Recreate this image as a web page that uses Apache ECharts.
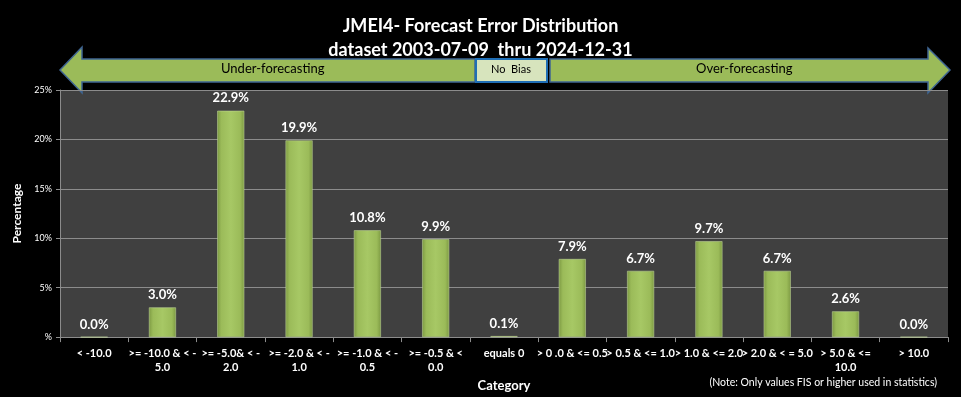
<!DOCTYPE html>
<html>
<head>
<meta charset="utf-8">
<script src="https://cdn.jsdelivr.net/npm/echarts@6/dist/echarts.min.js"></script>
<style>
  html, body { margin: 0; padding: 0; background: #000; }
  #chart { width: 961px; height: 397px; }
</style>
</head>
<body>
<div id="chart"></div>
<script>
const categories = [
  "< -10.0",
  ">= -10.0 & < -\n5.0",
  ">= -5.0& < -\n2.0",
  ">= -2.0 & < -\n1.0",
  ">= -1.0 & < -\n0.5",
  ">= -0.5 & <\n0.0",
  "equals 0",
  "> 0 .0 & <= 0.5",
  "> 0.5 & <= 1.0",
  "> 1.0 & <= 2.0",
  "> 2.0 & < = 5.0",
  "> 5.0 & <=\n10.0",
  "> 10.0",
];
const percentages = [0.0, 3.0, 22.9, 19.9, 10.8, 9.9, 0.1, 7.9, 6.7, 9.7, 6.7, 2.6, 0.0];
const yTicks = [0, 5, 10, 15, 20, 25];

const FONT = "Lato, 'Open Sans', sans-serif";
const myChart = echarts.init(document.getElementById("chart"));

// arrows over the plot (decoration)
const arrowStyle = { fill: "#9bbb59", stroke: "#3f6592", lineWidth: 1.5 };

myChart.setOption({
  backgroundColor: "#000",
  animation: false,
  title: {
    text: "JMEI4- Forecast Error Distribution\ndataset 2003-07-09  thru 2024-12-31",
    left: "center",
    top: 9,
    textStyle: {
      color: "#fff",
      fontFamily: FONT,
      fontWeight: "bold",
      fontSize: 18,
      lineHeight: 24,
    },
  },
  grid: {
    left: 60,
    right: 13,
    top: 90,
    bottom: 57,
    show: true,
    backgroundColor: "#404040",
    borderWidth: 0,
  },
  xAxis: {
    type: "category",
    data: categories,
    name: "Category",
    nameLocation: "middle",
    nameGap: 38,
    nameTextStyle: { color: "#fff", fontFamily: FONT, fontWeight: "bold", fontSize: 13 },
    axisLine: { lineStyle: { color: "#8c8c8c" } },
    axisTick: { show: true, length: 5, lineStyle: { color: "#8c8c8c" } },
    axisLabel: {
      color: "#fff",
      fontFamily: FONT,
      fontWeight: "bold",
      fontSize: 11,
      lineHeight: 14,
      margin: 9,
      interval: 0,
    },
  },
  yAxis: {
    type: "value",
    min: 0,
    max: 25,
    interval: 5,
    name: "Percentage",
    nameLocation: "middle",
    nameGap: 36,
    nameTextStyle: { color: "#fff", fontFamily: FONT, fontWeight: "bold", fontSize: 12 },
    axisLine: { show: true, lineStyle: { color: "#8c8c8c" } },
    axisTick: { show: true, length: 4, lineStyle: { color: "#8c8c8c" } },
    axisLabel: {
      color: "#fff",
      fontFamily: FONT,
      fontSize: 9,
      margin: 8,
      formatter: (v) => (v === yTicks[0] ? "%" : v + "%"),
    },
    splitLine: { show: true, lineStyle: { color: "#8c8c8c", width: 1 } },
  },
  series: [
    {
      type: "bar",
      data: percentages,
      barWidth: 27,
      itemStyle: {
        color: new echarts.graphic.LinearGradient(0, 0, 1, 0, [
          { offset: 0, color: "#7d9a43" },
          { offset: 0.15, color: "#9bbb59" },
          { offset: 0.5, color: "#a7c865" },
          { offset: 0.85, color: "#9bbb59" },
          { offset: 1, color: "#7d9a43" },
        ]),
        borderColor: "#c9dea0",
        borderWidth: 0.5,
      },
      label: {
        show: true,
        position: "top",
        distance: 6,
        color: "#fff",
        fontFamily: FONT,
        fontWeight: "bold",
        fontSize: 13,
        formatter: (p) => p.value.toFixed(1) + "%",
      },
    },
  ],
  graphic: [
    {
      type: "polygon",
      shape: { points: [[60, 70], [82, 47], [82, 59], [475, 59], [475, 82], [82, 82], [82, 93]] },
      style: arrowStyle,
    },
    {
      type: "text",
      left: 221,
      top: 62,
      style: { text: "Under-forecasting", fill: "#000", font: "13px " + FONT },
    },
    {
      type: "rect",
      shape: { x: 476, y: 59, width: 71, height: 23 },
      style: { fill: "#d7e4bd", stroke: "#1f6eb5", lineWidth: 2 },
    },
    {
      type: "text",
      left: 491,
      top: 64,
      style: { text: "No  Bias", fill: "#000", font: "11px " + FONT },
    },
    {
      type: "polygon",
      shape: { points: [[550, 59], [928, 59], [928, 48], [950, 70], [928, 93], [928, 82], [550, 82]] },
      style: arrowStyle,
    },
    {
      type: "text",
      left: 696,
      top: 62,
      style: { text: "Over-forecasting", fill: "#000", font: "13px " + FONT },
    },
    {
      type: "text",
      right: 24,
      top: 377,
      style: {
        text: "(Note: Only values FIS or higher used in statistics)",
        fill: "#fff",
        font: "10.5px " + FONT,
      },
    },
  ],
});
</script>
</body>
</html>
